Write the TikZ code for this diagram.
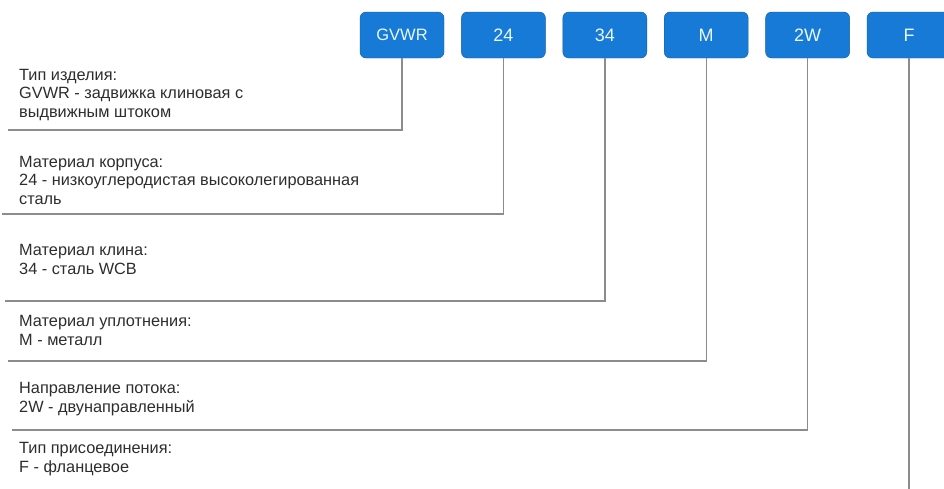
\documentclass[tikz,border=0pt]{standalone}
\usepackage{fontspec}
\setmainfont{Liberation Sans}
\usetikzlibrary{positioning}
\definecolor{codeblue}{RGB}{22,122,214}
\definecolor{linegray}{RGB}{140,140,140}
\definecolor{textgray}{RGB}{45,45,45}

\begin{document}
\begin{tikzpicture}[x=1pt,y=-1pt,
		code/.style={draw=codeblue!75!black, fill=codeblue, rounded corners=6pt,
			minimum width=84pt, minimum height=46pt, inner sep=0pt,
			text=cyan!8!white, font=\fontsize{18}{20}\selectfont},
		desc/.style={anchor=base west, align=left, inner sep=0pt,
			text=textgray, font=\fontsize{16.3}{18.3}\selectfont},
		lead/.style={draw=linegray, line width=1.4pt},
	]
		\useasboundingbox (0,0) rectangle (944,488);

		% code boxes
		\node[code, font=\fontsize{16.5}{18}\selectfont] (gvwr) at (402,35) {GVWR};
		\node[code, right=17pt of gvwr] (body) {24};
		\node[code, right=17pt of body] (wedge) {34};
		\node[code, right=17pt of wedge] (seal) {M};
		\node[code, right=17pt of seal] (flow) {2W};
		\node[code, right=17pt of flow] (conn) {F};

		% descriptions (base = last line)
		\node[desc] (dgvwr) at (19,117) {Тип изделия:\\GVWR - задвижка клиновая с\\выдвижным штоком};
		\node[desc] (dbody) at (19,204) {Материал корпуса:\\24 - низкоуглеродистая высоколегированная\\сталь};
		\node[desc] (dwedge) at (19,274) {Материал клина:\\34 - сталь WCB};
		\node[desc] (dseal) at (19,345) {Материал уплотнения:\\M - металл};
		\node[desc] (dflow) at (19,412) {Направление потока:\\2W - двунаправленный};
		\node[desc] (dconn) at (19,472) {Тип присоединения:\\F - фланцевое};

		% leader lines
		\coordinate (lgvwr) at (8,130);
		\coordinate (lbody) at (2,214);
		\coordinate (lwedge) at (5,301);
		\coordinate (lseal) at (8,361);
		\coordinate (lflow) at (12,430);
		\coordinate (lconn) at (conn.south |- 0,490);
		\path[lead]
			(gvwr.south) |- (lgvwr)
			(body.south) |- (lbody)
			(wedge.south) |- (lwedge)
			(seal.south) |- (lseal)
			(flow.south) |- (lflow)
			(conn.south) -- (lconn)
		;
	\end{tikzpicture}
\end{document}
